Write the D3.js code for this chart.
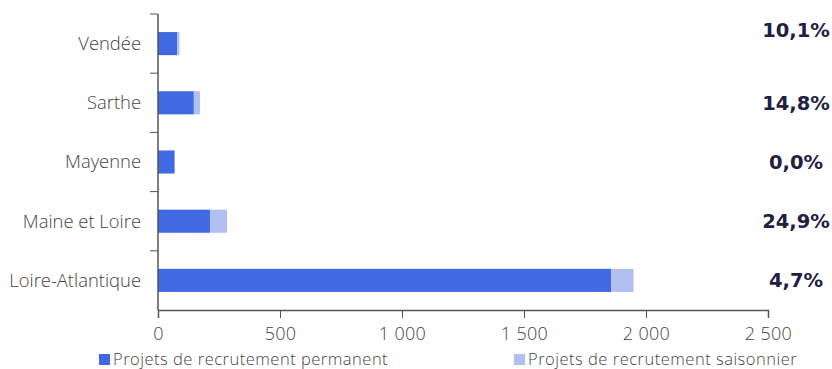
<!DOCTYPE html>
<html>
<head>
<meta charset="utf-8">
<script src="https://cdn.jsdelivr.net/npm/d3@7"></script>
<style>
  body { margin: 0; background: #fff; }
  text { font-family: "Open Sans", "DejaVu Sans", sans-serif; font-weight: 300; }
</style>
</head>
<body>
<div id="chart"></div>
<script>
// Data
let departements = ["Vendée", "Sarthe", "Mayenne", "Maine et Loire", "Loire-Atlantique"];
let permanent = [79, 147, 68, 213, 1857];
let saisonnier = [9, 25, 0, 70, 92];
let partSaisonnier = ["10,1%", "14,8%", "0,0%", "24,9%", "4,7%"];
let xTicks = [0, 500, 1000, 1500, 2000, 2500];
let seriesNames = ["Projets de recrutement permanent", "Projets de recrutement saisonnier"];
let colors = ["#4169e1", "#b1bff2"];

let width = 832, height = 369;
let margin = { left: 158, right: 64, top: 14, bottom: 59 };

let svg = d3.select("#chart")
	.append("svg")
	.attr("width", width)
	.attr("height", height);

// Scales
let x = d3.scaleLinear()
	.domain([0, 2500])
	.range([margin.left, width - margin.right]);

let y = d3.scaleBand()
	.domain(departements)
	.range([margin.top, height - margin.bottom])
	.paddingInner(0.61)
	.paddingOuter(0.305);

let yTicks = d3.scaleBand()
	.domain(departements)
	.range([margin.top, height - margin.bottom]);

// Stack the two series
let rows = departements.map(function (d, i) {
	return { name: d, permanent: permanent[i], saisonnier: saisonnier[i], part: partSaisonnier[i] };
});
let stack = d3.stack().keys(["permanent", "saisonnier"]);
let layers = stack(rows);

svg.selectAll(".layer")
	.data(layers)
	.enter().append("g")
	.attr("class", "layer")
	.attr("fill", function (d, i) { return colors[i]; })
	.selectAll("rect")
	.data(function (d) { return d; })
	.enter().append("rect")
	.attr("x", function (d) { return x(d[0]); })
	.attr("width", function (d) { return x(d[1]) - x(d[0]); })
	.attr("y", function (d) { return y(d.data.name); })
	.attr("height", y.bandwidth());

// X axis
let xAxis = svg.append("g")
	.attr("transform", "translate(0," + (height - margin.bottom) + ")")
	.call(d3.axisBottom(x)
		.tickValues(xTicks)
		.tickSize(8)
		.tickFormat(function (d) { return d3.format(",")(d).replace(",", " "); }));
xAxis.select(".domain").attr("stroke", "#555").attr("stroke-width", 1.5);
xAxis.selectAll(".tick line").attr("stroke", "#555");
xAxis.selectAll(".tick text")
	.attr("dy", 19)
	.attr("fill", "#444")
	.style("font-size", "18px")
	.style("letter-spacing", "0.3px");

// Y axis: line with ticks between categories
let yAxisG = svg.append("g");
yAxisG.append("line")
	.attr("x1", margin.left).attr("x2", margin.left)
	.attr("y1", margin.top).attr("y2", height - margin.bottom)
	.attr("stroke", "#555").attr("stroke-width", 1.5);
yAxisG.selectAll(".ytick")
	.data(departements)
	.enter().append("line")
	.attr("x1", margin.left - 8).attr("x2", margin.left)
	.attr("y1", function (d) { return yTicks(d); })
	.attr("y2", function (d) { return yTicks(d); })
	.attr("stroke", "#555");
yAxisG.selectAll(".ylabel")
	.data(departements)
	.enter().append("text")
	.attr("x", margin.left - 17)
	.attr("y", function (d) { return y(d) + y.bandwidth() / 2; })
	.attr("dy", "0.35em")
	.attr("text-anchor", "end")
	.attr("fill", "#444")
	.style("font-size", "18.4px")
	.text(function (d) { return d; });

// Share of seasonal projects on the right
svg.selectAll(".part")
	.data(rows)
	.enter().append("text")
	.attr("x", 796)
	.attr("y", function (d, i) { return i === 0 ? y(d.name) - 2 : y(d.name) + y.bandwidth() / 2; })
	.attr("dy", "0.35em")
	.attr("text-anchor", "middle")
	.attr("fill", "#1f2042")
	.style("font-family", "'DejaVu Sans', Verdana, sans-serif")
	.style("font-weight", "bold")
	.style("font-size", "19.5px")
	.text(function (d) { return d.part; });

// Legend
let legendX = [99, 514];
let legend = svg.selectAll(".legend")
	.data(seriesNames)
	.enter().append("g")
	.attr("transform", function (d, i) { return "translate(" + legendX[i] + "," + 359 + ")"; });
legend.append("rect")
	.attr("x", 0).attr("y", -5)
	.attr("width", 11).attr("height", 11)
	.attr("fill", function (d, i) { return colors[i]; });
legend.append("text")
	.attr("x", 14)
	.attr("dy", "0.35em")
	.attr("fill", "#444")
	.style("font-size", "16.5px")
	.style("letter-spacing", "0.5px")
	.text(function (d) { return d; });
</script>
</body>
</html>
